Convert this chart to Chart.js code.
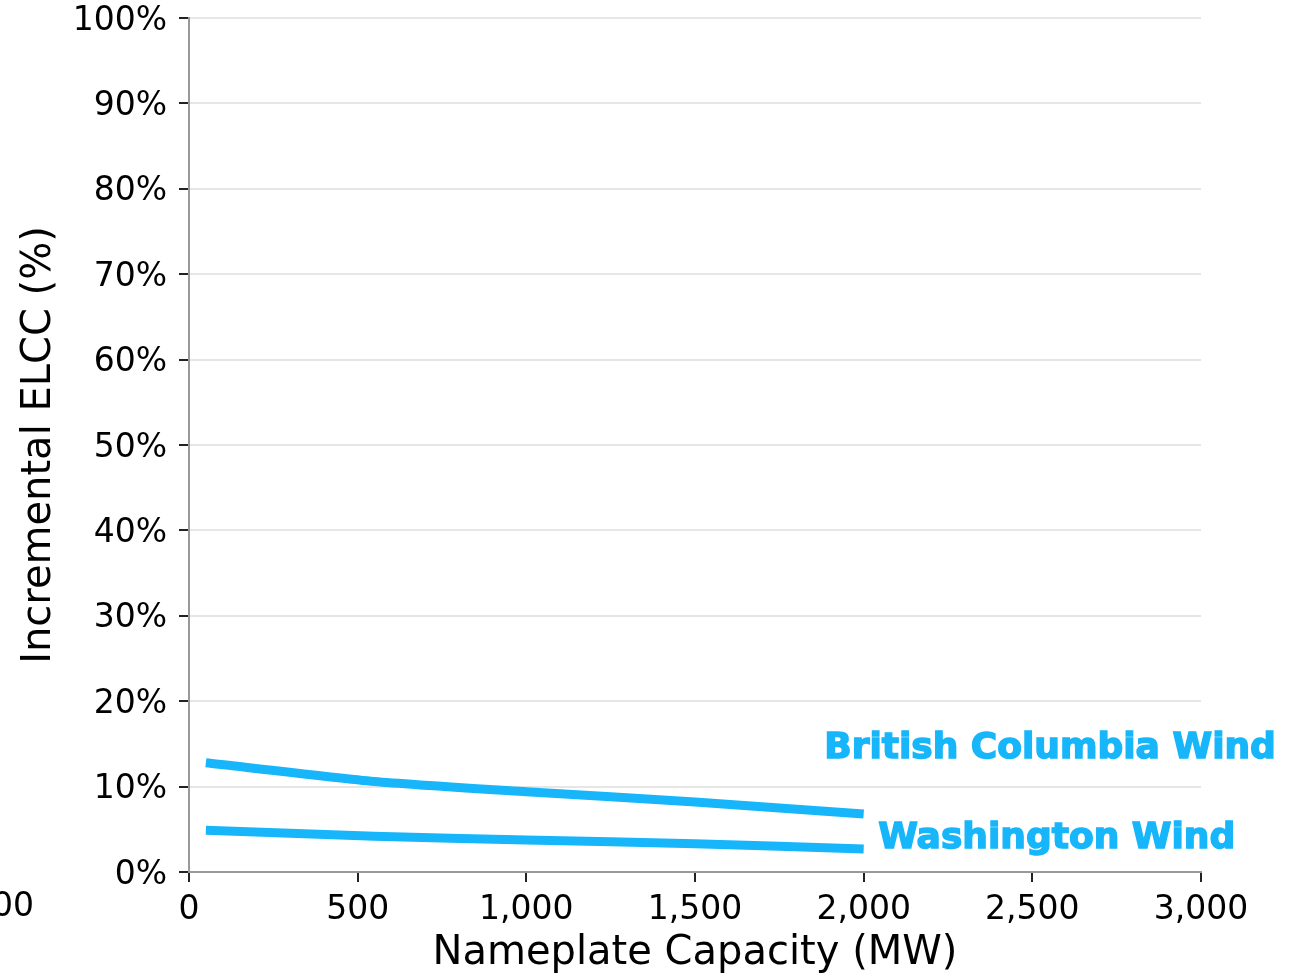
<!DOCTYPE html>
<html lang="en">
<head>
    <meta charset="UTF-8">
    <title>Incremental ELCC</title>
    <style>
        * { margin: 0; padding: 0; box-sizing: border-box; }
        body { background: #fff; width: 1298px; height: 976px; overflow: hidden; }
        canvas { display: block; }
    </style>
    <script src="https://cdn.jsdelivr.net/npm/chart.js"></script>
</head>
<body>
    <canvas id="elccChart" width="1298" height="976"></canvas>
    <script>
        // Data
        const capacity = [50, 550, 1000, 1500, 2000];
        const bcWind = [12.8, 10.6, 9.4, 8.2, 6.8];
        const waWind = [4.9, 4.2, 3.75, 3.3, 2.7];
        const seriesNames = ['British Columbia Wind', 'Washington Wind'];
        // label anchor points (x in MW, y in %)
        const labelX = [1883, 2043];
        const labelY = [14.4, 3.9];

        const lineBlue = '#17b6fa';
        const tickFont = { family: 'DejaVu Sans', size: 33 };
        const titleFont = { family: 'DejaVu Sans', size: 40, lineHeight: 1.1 };

        // series name labels, plus the clipped tick label on the far left
        const seriesLabels = {
            id: 'seriesLabels',
            afterDraw(chart) {
                const ctx = chart.ctx;
                const xs = chart.scales.x, ys = chart.scales.y;
                ctx.save();
                ctx.fillStyle = lineBlue;
                ctx.strokeStyle = lineBlue;
                ctx.lineWidth = 1.5;
                ctx.font = 'bold 36px "DejaVu Sans"';
                ctx.textAlign = 'left';
                ctx.textBaseline = 'middle';
                seriesNames.forEach((name, i) => {
                    const px = xs.getPixelForValue(labelX[i]);
                    const py = ys.getPixelForValue(labelY[i]);
                    ctx.fillText(name, px, py);
                    ctx.strokeText(name, px, py);
                });
                ctx.fillStyle = '#000';
                ctx.font = '33px "DejaVu Sans"';
                ctx.textAlign = 'right';
                ctx.fillText('\u2212500', 34, 907);
                ctx.restore();
            }
        };

        document.addEventListener("DOMContentLoaded", function() {
            const ctx = document.getElementById('elccChart').getContext('2d');
            new Chart(ctx, {
                type: 'line',
                data: {
                    datasets: [{
                        label: seriesNames[0],
                        data: capacity.map((c, i) => ({ x: c, y: bcWind[i] })),
                        borderColor: lineBlue,
                        borderWidth: 9,
                        pointRadius: 0,
                        tension: 0.2,
                        borderCapStyle: 'butt'
                    }, {
                        label: seriesNames[1],
                        data: capacity.map((c, i) => ({ x: c, y: waWind[i] })),
                        borderColor: lineBlue,
                        borderWidth: 9,
                        pointRadius: 0,
                        tension: 0.2,
                        borderCapStyle: 'butt'
                    }]
                },
                options: {
                    responsive: false,
                    animation: false,
                    layout: { padding: { top: 18, right: 97, left: 0, bottom: 0 } },
                    plugins: {
                        legend: { display: false },
                        tooltip: { enabled: false }
                    },
                    scales: {
                        x: {
                            type: 'linear',
                            min: 0,
                            max: 3000,
                            border: { color: '#999', width: 2 },
                            grid: { drawOnChartArea: false, drawTicks: true, tickLength: 10, color: '#222', lineWidth: 2 },
                            ticks: {
                                stepSize: 500,
                                color: '#000',
                                font: tickFont,
                                padding: 9,
                                maxRotation: 0,
                                callback: v => v.toLocaleString('en-US')
                            },
                            title: {
                                display: true,
                                text: 'Nameplate Capacity (MW)',
                                color: '#000',
                                font: titleFont,
                                padding: { top: 0, bottom: 0 }
                            },
                            afterFit: s => { s.height = 104; s.paddingLeft = 0; s.paddingRight = 0; }
                        },
                        y: {
                            min: 0,
                            max: 100,
                            border: { color: '#999', width: 2 },
                            grid: { drawOnChartArea: false, drawTicks: true, tickLength: 10, color: '#222', lineWidth: 2 },
                            ticks: {
                                stepSize: 10,
                                color: '#000',
                                font: tickFont,
                                padding: 12,
                                labelOffset: 3,
                                callback: v => v + '%'
                            },
                            title: {
                                display: true,
                                text: 'Incremental ELCC (%)',
                                color: '#000',
                                font: { family: 'DejaVu Sans', size: 40 },
                                padding: { top: 16, bottom: 0 }
                            },
                            afterFit: s => { s.width = 189; s.paddingTop = 0; s.paddingBottom = 0; }
                        },
                        yGrid: {
                            position: 'right',
                            min: 0,
                            max: 100,
                            border: { display: false },
                            grid: { drawTicks: false, color: '#e6e6e6', lineWidth: 2 },
                            ticks: { stepSize: 10, display: false },
                            afterFit: s => { s.width = 0; s.paddingTop = 0; s.paddingBottom = 0; }
                        }
                    }
                },
                plugins: [seriesLabels]
            });
        });
    </script>
</body>
</html>
